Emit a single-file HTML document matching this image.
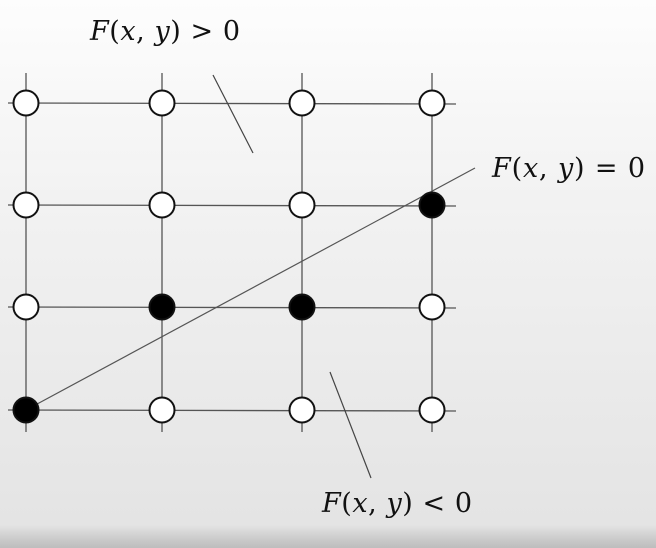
<!DOCTYPE html>
<html><head><meta charset="utf-8"><style>
html,body{margin:0;padding:0;width:656px;height:548px;overflow:hidden}
body{background:linear-gradient(#fdfdfd 0px,#f2f2f2 200px,#e4e4e4 525px,#c9c9c9 540px,#bdbdbd 548px)}
svg{position:absolute;left:0;top:0}
text{font-family:"DejaVu Serif","Liberation Serif",serif;font-size:27px;fill:#111}
</style></head><body>
<svg width="656" height="548">
<g id="grid"></g>
<line x1="26" y1="410" x2="475" y2="168" stroke="#555" stroke-width="1.2"/>
<line x1="213" y1="75" x2="253" y2="153" stroke="#444" stroke-width="1.2"/>
<line x1="330" y1="372" x2="371" y2="478" stroke="#444" stroke-width="1.2"/>
<g id="pts"></g>
<text x="90" y="40" textLength="150" lengthAdjust="spacing"><tspan font-style="italic">F</tspan>(<tspan font-style="italic">x</tspan>, <tspan font-style="italic">y</tspan>) &gt; 0</text>
<text x="492" y="177" textLength="153" lengthAdjust="spacing"><tspan font-style="italic">F</tspan>(<tspan font-style="italic">x</tspan>, <tspan font-style="italic">y</tspan>) = 0</text>
<text x="322" y="512" textLength="150" lengthAdjust="spacing"><tspan font-style="italic">F</tspan>(<tspan font-style="italic">x</tspan>, <tspan font-style="italic">y</tspan>) &lt; 0</text>
</svg>
<script>
const colX=[26,162,302,432];
const rowY=[103,205,307,410];
// filled[row][col]
const filled=[[0,0,0,0],[0,0,0,1],[0,1,1,0],[1,0,0,0]];
const NS="http://www.w3.org/2000/svg";
const g=document.getElementById('grid'),p=document.getElementById('pts');
colX.forEach((x,i)=>{const l=document.createElementNS(NS,'line');
l.setAttribute('x1',x);l.setAttribute('x2',x);l.setAttribute('y1',73);l.setAttribute('y2',432);
l.setAttribute('stroke','#555');l.setAttribute('stroke-width','1.3');


g.appendChild(l);});
rowY.forEach((y,i)=>{const l=document.createElementNS(NS,'line');
l.setAttribute('x1',8);l.setAttribute('x2',456);l.setAttribute('y1',y);l.setAttribute('y2',y+1);
l.setAttribute('stroke','#555');l.setAttribute('stroke-width','1.3');


g.appendChild(l);});
rowY.forEach((y,r)=>colX.forEach((x,c)=>{const e=document.createElementNS(NS,'circle');
e.setAttribute('cx',x);e.setAttribute('cy',y);e.setAttribute('r',12.5);
e.setAttribute('fill',filled[r][c]?'#000':'#fff');e.setAttribute('stroke','#111');e.setAttribute('stroke-width','2');


p.appendChild(e);}));
</script>
</body></html>
